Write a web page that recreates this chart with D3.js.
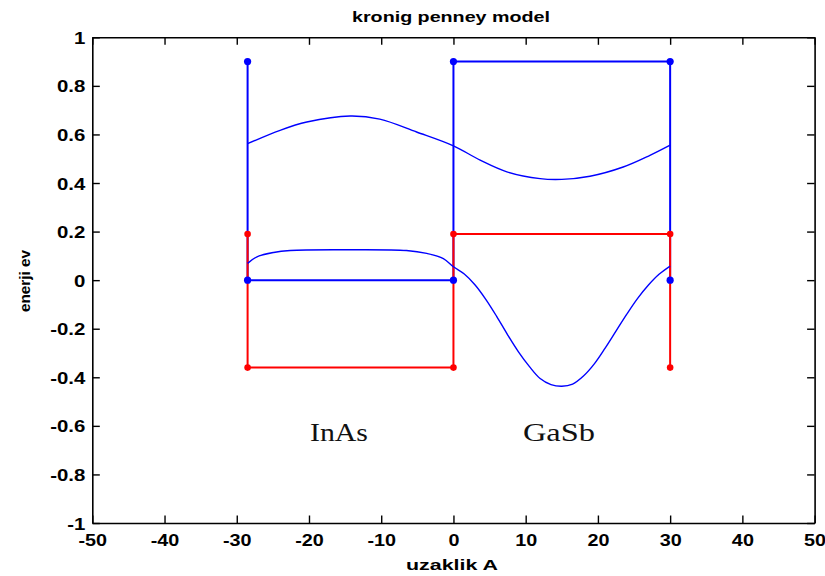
<!DOCTYPE html>
<html>
<head>
<meta charset="utf-8">
<script src="https://cdn.jsdelivr.net/npm/d3@7"></script>
<style>
  html, body { margin: 0; padding: 0; background: #fff; }
  svg { display: block; }
</style>
</head>
<body>
<svg id="chart" width="825" height="576"></svg>
<script>
// Axis ticks
const xTicks = [-50, -40, -30, -20, -10, 0, 10, 20, 30, 40, 50];
const yTicks = [-1, -0.8, -0.6, -0.4, -0.2, 0, 0.2, 0.4, 0.6, 0.8, 1];

// Band-edge profile (blue) and valence profile (red) across the two layers
const bandX = [-28.5, -28.5, 0, 0, 30, 30];
const blueY = [0.9, 0, 0, 0.9, 0.9, 0];
const redY  = [0.19, -0.36, -0.36, 0.19, 0.19, -0.36];

// Upper allowed-band curve
const upperX = [-28.5, -24, -20.3, -14.3, -10.2, -5.1, 0, 3.7, 7.4, 12, 15, 18.9, 23.5, 27.2, 30];
const upperY = [0.562, 0.617, 0.651, 0.676, 0.663, 0.610, 0.553, 0.494, 0.446, 0.418, 0.415, 0.428, 0.466, 0.514, 0.556];

// Lower allowed-band curve
const lowerX = [-28.5, -27.2, -24.9, -22.6, -15.7, -6.5, -3.7, -1.4, 0, 1.5, 3, 4.5, 6, 7.5, 9, 10.5, 12, 13.5, 15, 16.5, 18, 19.5, 21, 22.5, 24, 25.5, 27, 28.5, 30];
const lowerY = [0.069, 0.096, 0.114, 0.122, 0.125, 0.122, 0.110, 0.089, 0.055, 0.025, -0.02, -0.08, -0.15, -0.225, -0.295, -0.355, -0.405, -0.43, -0.437, -0.428, -0.395, -0.345, -0.28, -0.21, -0.14, -0.075, -0.02, 0.025, 0.058];

// Layer labels
const layerNames = ["InAs", "GaSb"];
const layerLabelX = [-15.85, 14.6];
const layerLabelY = -0.662;
const layerLabelLen = [58, 72];

const svg = d3.select("#chart");
const m = { left: 92.3, right: 825 - 814.6, top: 37.3, bottom: 576 - 523 };
const W = 825, H = 576;

const x = d3.scaleLinear().domain([-50, 50]).range([m.left, W - m.right]);
const y = d3.scaleLinear().domain([-1, 1]).range([H - m.bottom, m.top]);

const fmt = d => String(+d.toFixed(1));
const tickLen = 7.5;
const SX = 1.2; // horizontal glyph stretch
const sans = "'Liberation Sans', Arial, sans-serif";
const serif = "'Liberation Serif', 'Times New Roman', serif";

function styleAxis(g) {
  g.selectAll("path.domain").attr("stroke", "#000").attr("stroke-width", 1.6);
  g.selectAll(".tick line").attr("stroke", "#000").attr("stroke-width", 1.4);
}

// Bottom axis with labels
const gB = svg.append("g").attr("transform", `translate(0,${y(-1)})`)
  .call(d3.axisBottom(x).tickValues(xTicks).tickFormat(fmt).tickSizeInner(-tickLen).tickSizeOuter(0).tickPadding(0));
gB.selectAll(".tick text")
  .attr("y", 23).attr("dy", 0)
  .style("font-size", "16.5px").style("font-weight", "bold").style("font-family", sans)
  .attr("fill", "#000")
  .attr("transform", `scale(${SX},1)`);
styleAxis(gB);

// Left axis with labels
const gL = svg.append("g").attr("transform", `translate(${x(-50)},0)`)
  .call(d3.axisLeft(y).tickValues(yTicks).tickFormat(fmt).tickSizeInner(-tickLen).tickSizeOuter(0).tickPadding(0));
gL.selectAll(".tick text")
  .attr("x", -7 / SX).attr("dy", "0.36em")
  .style("font-size", "17px").style("font-weight", "bold").style("font-family", sans)
  .attr("fill", "#000")
  .attr("transform", `scale(${SX},1)`);
styleAxis(gL);

// Top and right box edges with inward ticks
const gT = svg.append("g").attr("transform", `translate(0,${y(1)})`)
  .call(d3.axisTop(x).tickValues(xTicks).tickFormat("").tickSizeInner(-tickLen).tickSizeOuter(0));
styleAxis(gT);
const gR = svg.append("g").attr("transform", `translate(${x(50)},0)`)
  .call(d3.axisRight(y).tickValues(yTicks).tickFormat("").tickSizeInner(-tickLen).tickSizeOuter(0));
styleAxis(gR);

// Data layers
const plot = svg.append("g");
const straight = d3.line().x(d => x(d[0])).y(d => y(d[1]));
const smooth = d3.line().x(d => x(d[0])).y(d => y(d[1])).curve(d3.curveCatmullRom.alpha(0.5));

const bluePts = bandX.map((v, i) => [v, blueY[i]]);
const redPts = bandX.map((v, i) => [v, redY[i]]);

plot.append("path").datum(bluePts).attr("d", straight)
  .attr("fill", "none").attr("stroke", "#0000ff").attr("stroke-width", 2);
plot.append("path").datum(redPts).attr("d", straight)
  .attr("fill", "none").attr("stroke", "#ff0000").attr("stroke-width", 2);

plot.append("path").datum(upperX.map((v, i) => [v, upperY[i]])).attr("d", smooth)
  .attr("fill", "none").attr("stroke", "#0000ff").attr("stroke-width", 1.4);
plot.append("path").datum(lowerX.map((v, i) => [v, lowerY[i]])).attr("d", smooth)
  .attr("fill", "none").attr("stroke", "#0000ff").attr("stroke-width", 1.4);

plot.selectAll("circle.red").data(redPts).join("circle").attr("class", "red")
  .attr("cx", d => x(d[0])).attr("cy", d => y(d[1])).attr("r", 3.3).attr("fill", "#ff0000");
plot.selectAll("circle.blue").data(bluePts).join("circle").attr("class", "blue")
  .attr("cx", d => x(d[0])).attr("cy", d => y(d[1])).attr("r", 3.6).attr("fill", "#0000ff");

// Layer names
svg.selectAll("text.layer").data(layerNames).join("text").attr("class", "layer")
  .attr("x", (d, i) => x(layerLabelX[i])).attr("y", y(layerLabelY))
  .attr("text-anchor", "middle")
  .attr("textLength", (d, i) => layerLabelLen[i]).attr("lengthAdjust", "spacingAndGlyphs")
  .style("font-family", serif)
  .style("font-size", "26px")
  .attr("fill", "#111")
  .text(d => d);

// Title and axis titles
svg.append("text").attr("x", 451).attr("y", 22).attr("text-anchor", "middle")
  .style("font-family", sans).style("font-size", "14px").style("font-weight", "bold")
  .attr("textLength", 198).attr("lengthAdjust", "spacingAndGlyphs")
  .text("kronig penney model");

svg.append("text").attr("x", 452).attr("y", 570).attr("text-anchor", "middle")
  .style("font-family", sans).style("font-size", "15px").style("font-weight", "bold")
  .attr("textLength", 92).attr("lengthAdjust", "spacingAndGlyphs")
  .text("uzaklik A");

svg.append("text").attr("transform", "translate(30,281) rotate(-90)").attr("text-anchor", "middle")
  .style("font-family", sans).style("font-size", "14px").style("font-weight", "bold")
  .attr("textLength", 62).attr("lengthAdjust", "spacingAndGlyphs")
  .text("enerji ev");
</script>
</body>
</html>
